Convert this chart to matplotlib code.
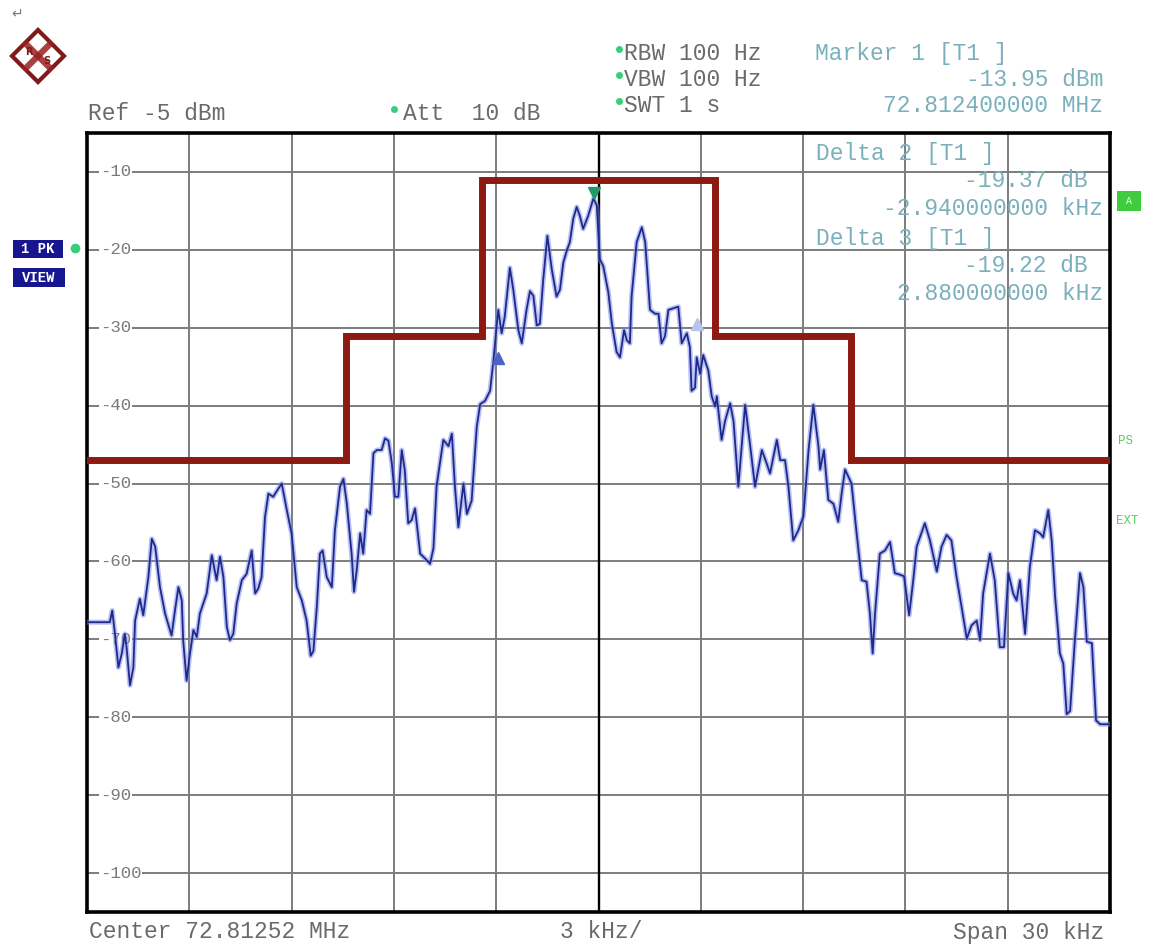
import matplotlib
matplotlib.use("Agg")
import matplotlib.pyplot as plt
from matplotlib.patches import Polygon, Rectangle

W, H = 1157, 949

# trace (offset from centre in kHz, level in dBm)
freq_khz = [
    -15.0, -14.33, -14.26, -14.18, -14.08, -13.98, -13.89, -13.84, -13.74, -13.64,
    -13.59, -13.45, -13.35, -13.2, -13.1, -13.0, -12.86, -12.71, -12.52, -12.42,
    -12.32, -12.22, -12.18, -12.08, -11.98, -11.88, -11.78, -11.69, -11.49, -11.34,
    -11.2, -11.1, -11.0, -10.9, -10.81, -10.71, -10.61, -10.46, -10.32, -10.17,
    -10.07, -9.98, -9.88, -9.78, -9.68, -9.54, -9.44, -9.29, -9.14, -9.0,
    -8.85, -8.7, -8.56, -8.44, -8.36, -8.26, -8.17, -8.09, -7.97, -7.82,
    -7.73, -7.58, -7.48, -7.38, -7.24, -7.17, -7.09, -6.99, -6.9, -6.8,
    -6.7, -6.6, -6.5, -6.36, -6.26, -6.16, -6.06, -5.97, -5.87, -5.77,
    -5.68, -5.58, -5.48, -5.38, -5.23, -5.09, -4.94, -4.84, -4.75, -4.55,
    -4.4, -4.3, -4.21, -4.11, -3.96, -3.86, -3.72, -3.57, -3.47, -3.33,
    -3.18, -3.08, -2.99, -2.94, -2.84, -2.75, -2.6, -2.5, -2.35, -2.25,
    -2.11, -2.01, -1.91, -1.81, -1.72, -1.62, -1.5, -1.37, -1.23, -1.13,
    -1.03, -0.93, -0.84, -0.74, -0.64, -0.55, -0.45, -0.3, -0.15, -0.05,
    0.04, 0.14, 0.29, 0.39, 0.53, 0.63, 0.75, 0.83, 0.92, 0.97,
    1.12, 1.27, 1.37, 1.51, 1.66, 1.76, 1.85, 1.95, 2.05, 2.34,
    2.44, 2.59, 2.68, 2.73, 2.83, 2.88, 2.98, 3.07, 3.22, 3.32,
    3.42, 3.47, 3.61, 3.71, 3.86, 3.96, 4.1, 4.2, 4.3, 4.45,
    4.59, 4.79, 4.93, 5.03, 5.23, 5.33, 5.47, 5.57, 5.71, 5.86,
    6.01, 6.16, 6.3, 6.45, 6.5, 6.61, 6.74, 6.89, 7.03, 7.13,
    7.23, 7.42, 7.57, 7.72, 7.86, 7.96, 8.04, 8.11, 8.25, 8.4,
    8.55, 8.69, 8.84, 8.96, 9.11, 9.23, 9.33, 9.57, 9.72, 9.92,
    10.06, 10.21, 10.35, 10.5, 10.65, 10.8, 10.94, 11.09, 11.19, 11.28,
    11.48, 11.62, 11.77, 11.89, 12.02, 12.16, 12.26, 12.36, 12.51, 12.65,
    12.8, 12.95, 13.04, 13.19, 13.29, 13.39, 13.53, 13.63, 13.73, 13.83,
    13.97, 14.12, 14.22, 14.32, 14.47, 14.59, 14.71, 15.0,
]
level_dbm = [
    -67.8, -67.8, -66.3, -69.3, -73.6, -71.8, -69.3, -71.0, -75.9, -73.6,
    -67.6, -64.8, -66.9, -62.0, -57.1, -58.1, -63.3, -66.7, -69.5, -66.3,
    -63.3, -65.0, -70.1, -75.3, -71.8, -68.8, -69.7, -66.7, -64.1, -59.2,
    -62.4, -59.4, -62.0, -68.4, -70.1, -69.3, -65.4, -62.4, -61.6, -58.6,
    -64.1, -63.5, -62.0, -54.3, -51.3, -51.7, -51.0, -50.0, -53.4, -56.4,
    -63.3, -65.0, -67.6, -72.1, -71.5, -65.8, -59.0, -58.6, -62.0, -63.3,
    -56.0, -50.4, -49.4, -52.6, -59.0, -63.9, -61.1, -56.4, -59.0, -53.4,
    -53.9, -46.1, -45.7, -45.7, -44.2, -44.5, -47.4, -51.7, -51.7, -45.7,
    -48.3, -55.1, -54.7, -53.2, -59.0, -59.6, -60.3, -58.3, -50.4, -44.4,
    -45.2, -43.6, -50.4, -55.6, -50.0, -53.9, -52.2, -42.7, -39.8, -39.4,
    -38.1, -34.2, -29.9, -27.7, -30.7, -28.6, -22.3, -25.1, -30.3, -32.0,
    -27.7, -25.3, -25.9, -29.7, -29.5, -23.8, -18.2, -22.5, -26.0, -25.1,
    -21.6, -20.1, -19.0, -16.0, -14.5, -15.6, -17.3, -15.6, -13.4, -14.3,
    -21.2, -22.1, -25.5, -29.4, -33.1, -33.8, -30.3, -31.6, -32.0, -26.0,
    -19.0, -17.1, -19.0, -27.7, -28.2, -28.2, -32.0, -31.1, -27.7, -27.3,
    -32.0, -30.7, -32.5, -38.1, -37.7, -33.8, -35.9, -33.5, -35.5, -38.8,
    -40.1, -38.8, -44.4, -42.0, -39.7, -42.0, -50.4, -45.2, -39.9, -45.2,
    -50.4, -45.7, -47.4, -48.7, -44.4, -47.0, -47.0, -50.4, -57.3, -56.0,
    -54.2, -45.7, -39.9, -45.2, -48.2, -45.7, -52.1, -52.6, -54.9, -51.3,
    -48.2, -50.0, -56.4, -62.4, -62.6, -66.7, -71.8, -66.7, -59.0, -58.6,
    -57.5, -61.5, -61.7, -61.9, -66.9, -62.4, -58.1, -55.1, -57.3, -61.3,
    -58.1, -56.6, -57.3, -62.0, -65.9, -69.9, -68.2, -67.6, -70.1, -64.1,
    -59.0, -62.4, -71.0, -71.0, -61.5, -64.1, -65.0, -62.4, -69.3, -60.7,
    -56.0, -56.4, -56.9, -53.4, -57.3, -64.5, -71.8, -73.1, -79.6, -79.2,
    -70.1, -61.5, -63.3, -70.3, -70.5, -80.4, -80.9, -80.9,
]

# limit line (spectrum mask)
limit_khz = [-15, -7.4, -7.4, -3.43, -3.43, 3.43, 3.43, 7.4, 7.4, 15]
limit_db = [-47, -47, -31, -31, -11, -11, -31, -31, -47, -47]

# markers: marker 1, delta 2, delta 3
marker_khz = [-0.12, -2.94, 2.88]
marker_db = [-13.95, -33.32, -33.17]

grid_db = [-10, -20, -30, -40, -50, -60, -70, -80, -90, -100]
grid_khz = [-12, -9, -6, -3, 3, 6, 9, 12]

MONO = "Liberation Mono"
GRAY = "#6a6a6a"
TEAL = "#7ab0bc"
GREEN = "#35d07a"

fig = plt.figure(figsize=(W / 100, H / 100), dpi=100)
fig.patch.set_facecolor("white")

# plot area in pixel positions of the screen shot
ax = fig.add_axes([87 / W, 1 - 912 / H, (1110 - 87) / W, (912 - 133) / H])
ax.set_xlim(-15, 15)
ax.set_ylim(-105, -5)
ax.set_xticks([])
ax.set_yticks([])
for s in ax.spines.values():
    s.set_linewidth(2.6)
    s.set_color("black")

for g in grid_db:
    ax.axhline(g, color="#7c7c7c", lw=1.4, zorder=1)
    ax.text(-14.62, g, str(g), ha="left", va="center", fontsize=12.5,
            family=MONO, color="#7a7a7a", zorder=2,
            bbox=dict(fc="white", ec="none", pad=0.6))
for v in grid_khz:
    ax.axvline(v, color="#7c7c7c", lw=1.4, zorder=1)
ax.axvline(0, color="black", lw=1.7, zorder=1)

ax.plot(limit_khz, limit_db, color="#8c1a12", lw=5, zorder=3,
        solid_joinstyle="miter")

ax.plot(freq_khz, level_dbm, color="#7d8cf0", lw=3.6, alpha=0.55, zorder=4)
ax.plot(freq_khz, level_dbm, color="#1e2a86", lw=1.3, zorder=5)

# marker symbols
ax.plot(marker_khz[0], marker_db[0] + 1.2, marker="v", ms=9, color="#1f9a6a",
        zorder=6, ls="none")
ax.plot(marker_khz[1], marker_db[1] - 0.6, marker="^", ms=8, color="#4b63c8",
        zorder=6, ls="none")
ax.plot(marker_khz[2], marker_db[2] + 3.6, marker="^", ms=8, color="#b8c4ee",
        zorder=6, ls="none")

# overlay in pixel coords for all the screen annotations
ov = fig.add_axes([0, 0, 1, 1], zorder=10)
ov.set_xlim(0, W)
ov.set_ylim(H, 0)
ov.axis("off")
ov.patch.set_alpha(0)

ov.text(17, 14, "\u21b5", fontsize=10, color="#777777", ha="center", va="center",
        family="DejaVu Sans")

# R&S logo, roughly
cx, cy, r = 38, 56, 26
ov.add_patch(Polygon([(cx, cy - r), (cx + r, cy), (cx, cy + r), (cx - r, cy)],
                     closed=True, fc="white", ec="#7e1a1a", lw=3))
ov.plot([cx - 12, cx + 12], [cy - 12, cy + 12], color="#9a1f1f", lw=4.5, alpha=0.85)
ov.plot([cx - 12, cx + 12], [cy + 12, cy - 12], color="#9a1f1f", lw=4.5, alpha=0.85)
ov.text(cx - 9, cy - 4, "R", fontsize=7, color="#7e1a1a", ha="center",
        va="center", fontweight="bold")
ov.text(cx + 9, cy + 5, "S", fontsize=7, color="#7e1a1a", ha="center",
        va="center", fontweight="bold")

fs = 16.5
ov.text(88, 113, "Ref -5 dBm", family=MONO, fontsize=fs, color=GRAY,
        va="center", ha="left")
ov.plot(394, 109, "o", ms=4, color=GREEN)
ov.text(403, 113, "Att  10 dB", family=MONO, fontsize=fs, color=GRAY,
        va="center", ha="left")

for y, label in [(53, "RBW 100 Hz"), (79, "VBW 100 Hz"), (105, "SWT 1 s")]:
    ov.plot(619, y - 4, "o", ms=4, color=GREEN)
    ov.text(624, y, label, family=MONO, fontsize=fs, color=GRAY,
            va="center", ha="left")

ov.text(815, 53, "Marker 1 [T1 ]", family=MONO, fontsize=fs, color=TEAL,
        va="center", ha="left")
ov.text(1103, 79, "-13.95 dBm", family=MONO, fontsize=fs, color=TEAL,
        va="center", ha="right")
ov.text(1103, 105, "72.812400000 MHz", family=MONO, fontsize=fs, color=TEAL,
        va="center", ha="right")

ov.text(816, 153, "Delta 2 [T1 ]", family=MONO, fontsize=fs, color=TEAL,
        va="center", ha="left")
ov.text(1088, 180, "-19.37 dB", family=MONO, fontsize=fs, color=TEAL,
        va="center", ha="right")
ov.text(1103, 208, "-2.940000000 kHz", family=MONO, fontsize=fs, color=TEAL,
        va="center", ha="right")
ov.text(816, 238, "Delta 3 [T1 ]", family=MONO, fontsize=fs, color=TEAL,
        va="center", ha="left")
ov.text(1088, 265, "-19.22 dB", family=MONO, fontsize=fs, color=TEAL,
        va="center", ha="right")
ov.text(1103, 293, "2.880000000 kHz", family=MONO, fontsize=fs, color=TEAL,
        va="center", ha="right")

ov.text(89, 932, "Center 72.81252 MHz", family=MONO, fontsize=fs, color=GRAY,
        va="center", ha="left")
ov.text(560, 932, "3 kHz/", family=MONO, fontsize=fs, color=GRAY,
        va="center", ha="left")
ov.text(1104, 932, "Span 30 kHz", family=MONO, fontsize=fs, color=GRAY,
        va="center", ha="right")

# trace info boxes on the left
ov.add_patch(Rectangle((13, 240), 50, 18, fc="#16168f", ec="none"))
ov.text(38, 249, "1 PK", family=MONO, fontsize=10, color="white",
        fontweight="bold", ha="center", va="center")
ov.add_patch(Rectangle((13, 268), 52, 19, fc="#16168f", ec="none"))
ov.text(39, 277.5, "VIEW", family=MONO, fontsize=10, color="white",
        fontweight="bold", ha="center", va="center")
ov.plot(75, 248, "o", ms=6, color=GREEN)

# right side status flags
ov.add_patch(Rectangle((1117, 191), 24, 20, fc="#3fcc3f", ec="none"))
ov.text(1129, 201, "A", family=MONO, fontsize=7, color="white",
        ha="center", va="center")
ov.text(1118, 441, "PS", family=MONO, fontsize=9, color="#5ccc5c",
        ha="left", va="center")
ov.text(1116, 521, "EXT", family=MONO, fontsize=9, color="#5ccc5c",
        ha="left", va="center")

fig.savefig("out.png", dpi=100, facecolor="white")
